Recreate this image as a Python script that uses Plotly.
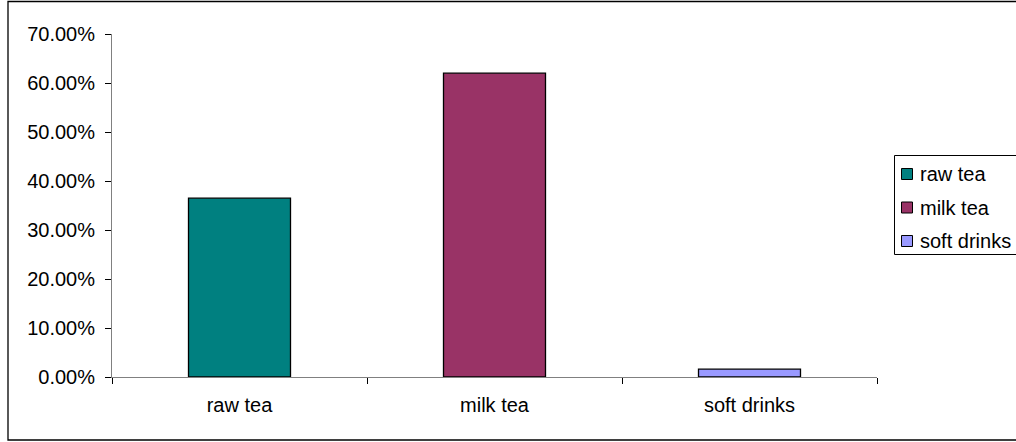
import plotly.graph_objects as go

# Share of respondents by preferred drink
categories = ["raw tea", "milk tea", "soft drinks"]
shares = [0.365, 0.620, 0.016]
colors = ["#008080", "#993366", "#9999FF"]
y_ticks = [0.0, 0.1, 0.2, 0.3, 0.4, 0.5, 0.6, 0.7]

FONT = dict(family="Arial, Liberation Sans, sans-serif", size=20, color="#000000")

fig = go.Figure()
for cat, val, col in zip(categories, shares, colors):
    fig.add_trace(go.Bar(
        x=[cat], y=[val], name=cat,
        width=0.4,
        marker=dict(color=col, line=dict(color="#000000", width=1.3)),
        hoverinfo="x+y",
        showlegend=False,
    ))

W, H = 1016, 442
ml, mr, mt, mb = 112, 139, 34, 65
pw, ph = W - ml - mr, H - mt - mb

def px_x(x):
    return (x - ml) / pw

def px_y(y):
    return (H - mb - y) / ph

shapes = [
    # chart frame
    dict(type="rect", xref="paper", yref="paper",
         x0=px_x(8), x1=px_x(1030), y0=px_y(440), y1=px_y(1.5),
         line=dict(color="#000000", width=1.3), layer="below"),
    # legend frame
    dict(type="rect", xref="paper", yref="paper",
         x0=px_x(894.5), x1=px_x(1030), y0=px_y(254.5), y1=px_y(155.5),
         line=dict(color="#000000", width=1), fillcolor="white", layer="below"),
]
annotations = []

# legend entries: one swatch + label per category
row_y = [174, 207.5, 241]
for cat, col, yc in zip(categories, colors, row_y):
    shapes.append(dict(
        type="rect", xref="paper", yref="paper",
        x0=px_x(901.5), x1=px_x(912.5), y0=px_y(yc + 5.5), y1=px_y(yc - 5.5),
        line=dict(color="#000000", width=1), fillcolor=col, layer="above",
    ))
    annotations.append(dict(
        text=cat, xref="paper", yref="paper",
        x=px_x(918), y=px_y(yc), xanchor="left", yanchor="middle",
        showarrow=False, font=FONT,
    ))

fig.update_layout(
    width=W, height=H,
    margin=dict(l=ml, r=mr, t=mt, b=mb, autoexpand=False),
    paper_bgcolor="white", plot_bgcolor="white",
    font=FONT,
    barmode="relative",
    showlegend=False,
    xaxis=dict(
        categoryorder="array", categoryarray=categories,
        showline=True, linecolor="#808080", linewidth=1,
        ticks="outside", tickson="boundaries", ticklen=6,
        tickcolor="#000000", tickwidth=1,
        ticklabelstandoff=10,
        showgrid=False, zeroline=False,
        tickfont=FONT,
    ),
    yaxis=dict(
        range=[0, 0.7],
        tickvals=y_ticks, tickformat=".2%",
        showline=True, linecolor="#808080", linewidth=1,
        ticks="outside", ticklen=6, tickcolor="#000000", tickwidth=1,
        ticklabelstandoff=6,
        showgrid=False, zeroline=False,
        tickfont=FONT,
    ),
    shapes=shapes,
    annotations=annotations,
)

fig.write_html("out.html")
